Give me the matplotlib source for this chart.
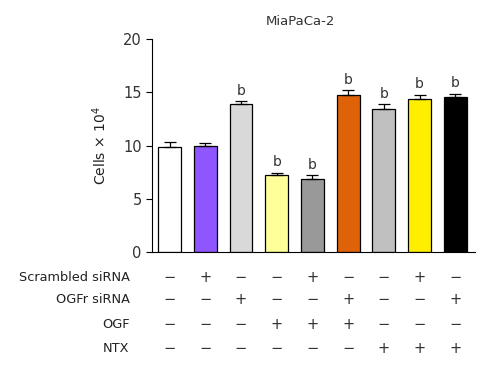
import numpy as np
import matplotlib
matplotlib.use("Agg")
import matplotlib.pyplot as plt

plt.rcParams['font.family'] = ['DejaVu Sans']

# data
values = [9.9, 10.0, 13.9, 7.2, 6.87, 14.77, 13.46, 14.34, 14.53]
errors = [0.45, 0.25, 0.25, 0.26, 0.33, 0.41, 0.41, 0.4, 0.34]
colors = ['#FFFFFF', '#8F55FF', '#D9D9D9', '#FFFF99', '#999999',
          '#E06208', '#C0C0C0', '#FFEE00', '#000000']
sig = ['', '', 'b', 'b', 'b', 'b', 'b', 'b', 'b']

row_labels = ['Scrambled siRNA', 'OGFr siRNA', 'OGF', 'NTX']
scrambled = ['-', '+', '-', '-', '+', '-', '-', '+', '-']
ogfr = ['-', '-', '+', '-', '-', '+', '-', '-', '+']
ogf = ['-', '-', '-', '+', '+', '+', '-', '-', '-']
ntx = ['-', '-', '-', '-', '-', '-', '+', '+', '+']

fig = plt.figure(figsize=(5, 3.75), dpi=100)
ax = fig.add_axes([0.304, 0.328, 0.646, 0.568])

x = np.arange(len(values))
ax.bar(x, values, width=0.64, color=colors, edgecolor='black', linewidth=0.9,
       yerr=[np.zeros(len(errors)), errors],
       error_kw=dict(ecolor='black', elinewidth=0.9, capsize=4, capthick=0.9))

for i, s in enumerate(sig):
    if s:
        ax.text(x[i], values[i] + errors[i] + 0.35, s, ha='center', va='bottom',
                fontsize=10, color='#333333')

ax.set_xlim(-0.49, 8.55)
ax.set_ylim(0, 20)
ax.set_yticks([0, 5, 10, 15, 20])
ax.set_xticks([])
ax.spines['top'].set_visible(False)
ax.spines['right'].set_visible(False)
ax.tick_params(axis='y', direction='out', length=4, labelsize=10.5,
               labelcolor='#333333')
ax.set_ylabel('Cells × 10$^4$', fontsize=10, color='#222222', labelpad=10)

fig.text(0.6, 0.925, 'MiaPaCa-2', ha='center', va='bottom', fontsize=9.5,
         color='#333333')

# treatment table below the bars
rows = [scrambled, ogfr, ogf, ntx]
row_y = [-2.35, -4.5, -6.85, -9.1]
for lab, row, yy in zip(row_labels, rows, row_y):
    ax.text(-1.12, yy, lab, ha='right', va='center', fontsize=9.3,
            color='#222222', clip_on=False)
    for i, s in enumerate(row):
        ax.text(x[i], yy, '+' if s == '+' else '\u2212', ha='center',
                va='center', fontsize=10.5, color='#333333', clip_on=False)

fig.savefig('out.png', dpi=100)
